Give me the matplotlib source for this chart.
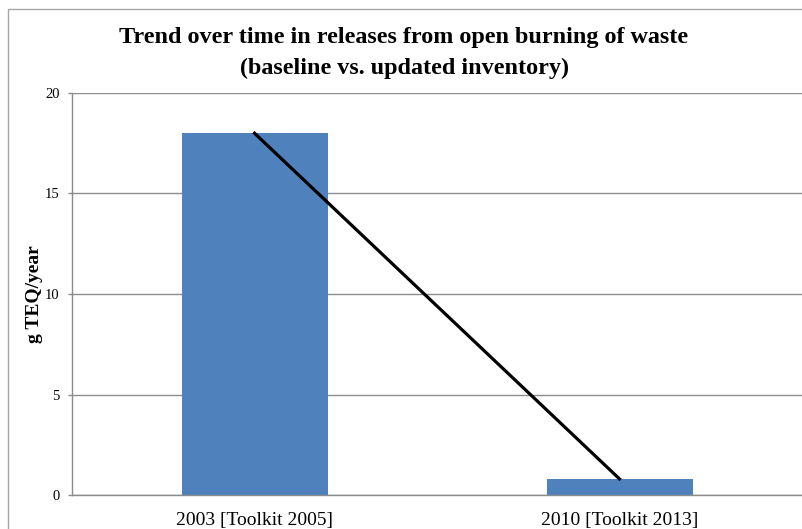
import matplotlib
matplotlib.use("Agg")
import matplotlib.pyplot as plt
from matplotlib.patches import Rectangle

categories = ["2003 [Toolkit 2005]", "2010 [Toolkit 2013]"]
releases = [18.0, 0.8]
y_ticks = [0, 5, 10, 15, 20]
title_lines = ["Trend over time in releases from open burning of waste",
               "(baseline vs. updated inventory)"]

plt.rcParams["font.family"] = ["Liberation Serif", "DejaVu Serif"]

W, H = 802, 529
fig = plt.figure(figsize=(W / 100, H / 100), dpi=100)

# outer chart-area frame
fig.patches.append(Rectangle((8 / W, -0.1), 1.2, 1 - 9 / H + 0.1,
                             transform=fig.transFigure, fill=False,
                             edgecolor="#a6a6a6", linewidth=1.0))

ax = fig.add_axes([72 / W, 34 / H, 730 / W, 402 / H])
x = list(range(len(categories)))

ax.set_axisbelow(True)
ax.yaxis.grid(True, color="#8c8c8c", linewidth=1.0)
ax.bar(x, releases, width=0.4, color="#4f81bd", zorder=2)
ax.plot(x, releases, color="black", linewidth=2.3, zorder=3)

ax.set_xlim(-0.5, 1.5)
ax.set_ylim(0, 20)
ax.set_yticks(y_ticks)
ax.set_xticks(x)
ax.set_xticklabels(categories, fontsize=14)
ax.tick_params(axis="x", length=0, pad=12)
ax.tick_params(axis="y", length=3, width=1, color="#8c8c8c", labelsize=10.5, pad=6)

for side in ("top", "right"):
    ax.spines[side].set_visible(False)
for side in ("left", "bottom"):
    ax.spines[side].set_color("#8c8c8c")
    ax.spines[side].set_linewidth(1.0)

ax.set_ylabel("g TEQ/year", fontsize=14, fontweight="bold")
ax.yaxis.set_label_coords((43 - 72) / 730, 0.5)

# two-line bold title, baselines placed explicitly
for line, base in zip(title_lines, (43, 74)):
    fig.text(404 / W, 1 - base / H, line, ha="center", va="baseline",
             fontsize=17.4, fontweight="bold")

fig.savefig("out.png", dpi=100)
